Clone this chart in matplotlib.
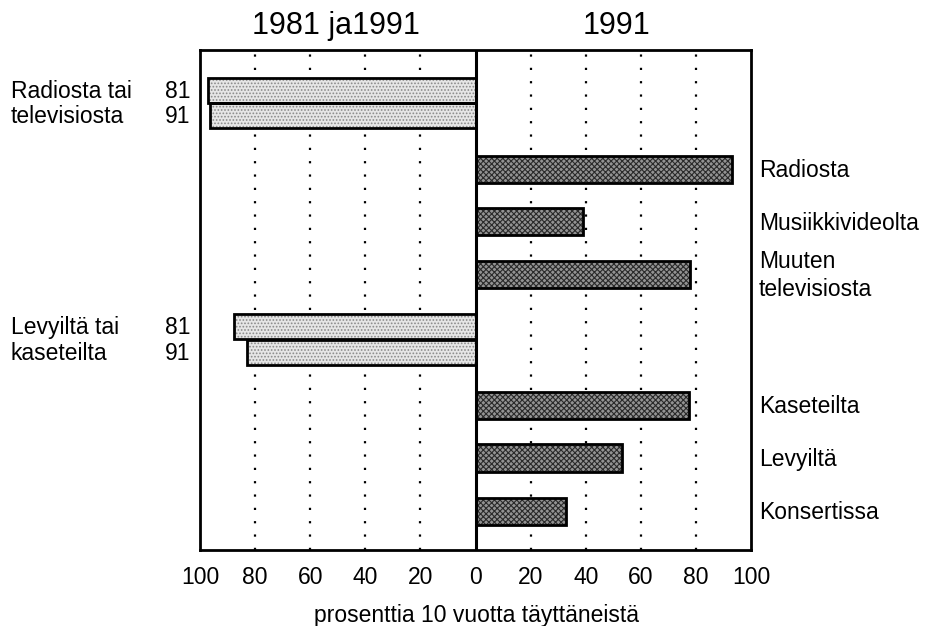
import matplotlib
matplotlib.use("Agg")
import matplotlib.pyplot as plt
import matplotlib.transforms as mtransforms

plt.rcParams['font.family'] = ['Liberation Sans', 'DejaVu Sans']
plt.rcParams['hatch.linewidth'] = 0.8

# ---- data ----
left_groups = ["Radiosta tai\ntelevisiosta", "Levyiltä tai\nkaseteilta"]
left_years = ["81", "91"]
left_values_81 = [97, 87.5]
left_values_91 = [96.5, 83]

right_labels = ["Radiosta", "Musiikkivideolta", "Muuten\ntelevisiosta",
                "Kaseteilta", "Levyiltä", "Konsertissa"]
right_values = [93, 39, 78, 77.5, 53, 33]

xticks = [-100, -80, -60, -40, -20, 0, 20, 40, 60, 80, 100]
xtick_labels = ["100", "80", "60", "40", "20", "0", "20", "40", "60", "80", "100"]
title_left = "1981 ja1991"
title_right = "1991"
xlabel = "prosenttia 10 vuotta täyttäneistä"

# ---- layout ----
W, H = 926, 626
FS = 16.5
fig = plt.figure(figsize=(W / 100, H / 100), dpi=100)
ax = fig.add_axes([200 / W, (H - 550) / H, (751 - 200) / W, 500 / H])
ax.set_xlim(-100, 100)
ax.set_ylim(100, 0)


def ypx(v):
    """axis y-units (0 top .. 100 bottom) -> pixel from top"""
    return 50 + v * 5


def ftext(x, y, s, **kw):
    """text at pixel coords (from top-left)"""
    kw.setdefault('fontsize', FS)
    fig.text(x / W, 1 - y / H, s, **kw)


# y positions (in axis units, 0 = top, 100 = bottom)
left_pos_81 = [8.1, 55.3]
left_pos_91 = [13.1, 60.5]
right_pos = [23.8, 34.3, 44.8, 71.0, 81.6, 92.2]
bh_left = 5.1
bh_right = 5.4

# grid
for x in xticks:
    if x in (-100, 0, 100):
        continue
    ax.axvline(x, color='black', lw=1.6, linestyle=(0, (1, 5)), zorder=1)


def draw_bar(y, w, h, face, hatch, hcol):
    ax.barh(y, w, height=h, color=face, hatch=hatch, edgecolor=hcol,
            linewidth=0, zorder=2)
    ax.barh(y, w, height=h, fill=False, edgecolor='black', linewidth=2.0,
            zorder=3)


for y, v in zip(left_pos_81, left_values_81):
    draw_bar(y, -v, bh_left, '#e6e6e6', '.....', '#8a8a8a')
for y, v in zip(left_pos_91, left_values_91):
    draw_bar(y, -v, bh_left, '#e6e6e6', '.....', '#8a8a8a')
for y, v in zip(right_pos, right_values):
    draw_bar(y, v, bh_right, '#939393', 'xxxxxx', '#2a2a2a')

ax.axvline(0, color='black', lw=2.2, zorder=4)

for s in ax.spines.values():
    s.set_linewidth(2.0)

ax.set_yticks([])
ax.set_xticks(xticks)
ax.set_xticklabels([])
ax.tick_params(axis='x', length=0)

# tick labels
tr = mtransforms.blended_transform_factory(ax.transData, fig.transFigure)
for x, lab in zip(xticks, xtick_labels):
    ax.text(x, 1 - 584.5 / H, lab, transform=tr, ha='center', va='baseline',
            fontsize=FS, clip_on=False)

# x label
ftext(476, 622, xlabel, ha='center', va='baseline')

# titles
ax.text(-50.5, 1 - 34 / H, title_left, transform=tr, ha='center',
        va='baseline', fontsize=22)
ax.text(51, 1 - 34 / H, title_right, transform=tr, ha='center',
        va='baseline', fontsize=22)

# left labels
for g, y81, y91 in zip(left_groups, left_pos_81, left_pos_91):
    l1, l2 = g.split("\n")
    ftext(11, ypx(y81) + 7.5, l1, ha='left', va='baseline')
    ftext(11, ypx(y91) + 7.5, l2, ha='left', va='baseline')
    ftext(190, ypx(y81) + 7.5, left_years[0], ha='right', va='baseline')
    ftext(190, ypx(y91) + 7.5, left_years[1], ha='right', va='baseline')

# right labels
for y, lab in zip(right_pos, right_labels):
    lines = lab.split("\n")
    if len(lines) == 1:
        ftext(759, ypx(y) + 8, lines[0], ha='left', va='baseline')
    else:
        ftext(759, ypx(y) - 6, lines[0], ha='left', va='baseline')
        ftext(759, ypx(y) + 22.5, lines[1], ha='left', va='baseline')

fig.savefig("out.png", dpi=100)
